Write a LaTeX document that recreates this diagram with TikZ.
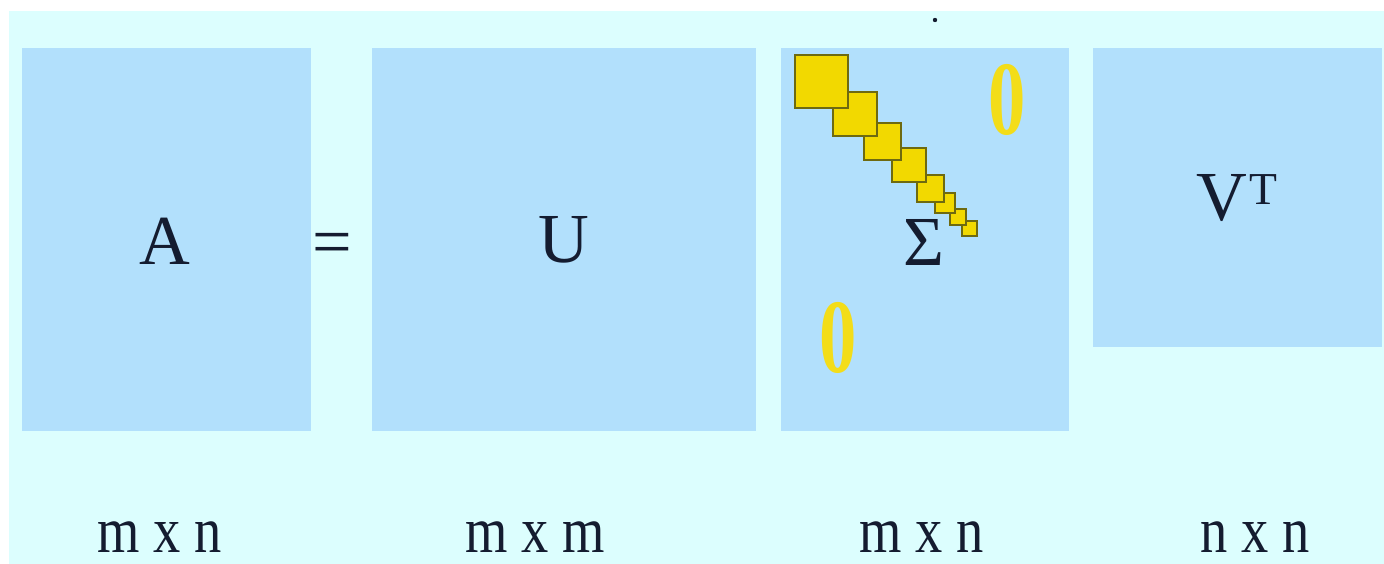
\documentclass[tikz,border=0pt]{standalone}
\usepackage{fontspec}
\setmainfont{Liberation Serif}
\usepackage{xcolor}
\definecolor{svdback}{HTML}{DCFEFE}
\definecolor{svdblue}{HTML}{B2E0FC}
\definecolor{svdyellow}{HTML}{F2D900}
\definecolor{svdedge}{HTML}{6E6A10}
\definecolor{svdink}{HTML}{141C30}

\begin{document}
\begin{tikzpicture}[
  x=0.02cm, y=-0.02cm,
  matrixbox/.style={fill=svdblue, draw=none},
  letter/.style={font=\fontsize{40}{40}\selectfont, text=svdink, inner sep=0pt},
  dimlabel/.style={font=\fontsize{31}{31}\selectfont, text=svdink, inner sep=0pt},
  sval/.style={fill=svdyellow, draw=svdedge, line width=0.8pt},
  zero/.style={font=\fontsize{50}{50}\bfseries\selectfont, text=svdyellow!90!white, inner sep=0pt}
]
  \useasboundingbox (0,0) rectangle (1384,564);
  \fill[svdback] (9,11) rectangle (1384,564);

  % the four matrices
  \fill[matrixbox] (22,48) rectangle (311,431);
  \fill[matrixbox] (372,48) rectangle (756,431);
  \fill[matrixbox] (781,48) rectangle (1069,431);
  \fill[matrixbox] (1093,48) rectangle (1382,347);

  % singular values, largest on top
  \foreach \x/\y/\s in {962/221/15, 950/209/16, 935/193/20, 917/175/27,
                        892/148/34, 864/123/37, 833/92/44, 795/55/53}
    \filldraw[sval] (\x,\y) rectangle ++(\s,\s);

  \fill[svdink] (935,20) circle (2.2);

  \node[letter] (matA) at (165,241) {A};
  \node[letter] (eq) at (332,249) {=};
  \node[letter] (matU) at (564,240) {U};
  \node[letter] (matS) at (924,242) {Σ};
  \node[letter] (matV) at (1237,198) {V\hspace{1pt}\raisebox{9pt}{\fontsize{26}{26}\selectfont T}};

  \node[zero] (zeroup) at (1007,100) {\scalebox{0.85}[1.2]{0}};
  \node[zero] (zerolow) at (838,338) {\scalebox{0.85}[1.2]{0}};

  % sizes below
  \node[dimlabel] (dimA) at (160,537) {\scalebox{1}[1.2]{m x n}};
  \node[dimlabel] (dimU) at (535,537) {\scalebox{1}[1.2]{m x m}};
  \node[dimlabel] (dimS) at (922,537) {\scalebox{1}[1.2]{m x n}};
  \node[dimlabel] (dimV) at (1255,537) {\scalebox{1}[1.2]{n x n}};
\end{tikzpicture}
\end{document}
